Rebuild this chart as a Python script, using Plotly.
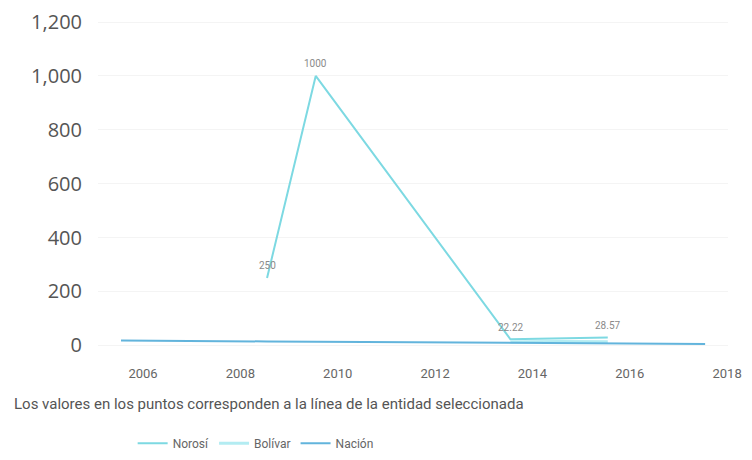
import plotly.graph_objects as go

norosi_years = [2009, 2010, 2014, 2016]
norosi_vals = [250, 1000, 22.22, 28.57]
norosi_labels = ["250", "1000", "22.22", "28.57"]

bolivar_years = [2014, 2015, 2016]
bolivar_vals = [12, 14, 13]

nacion_years = [2006, 2007, 2008, 2009, 2010, 2011, 2012, 2013, 2014, 2015, 2016, 2017, 2018]
nacion_vals = [18, 16, 15, 14, 13, 12, 11, 10, 9, 8, 7, 6, 5]

x_ticks = [2006, 2008, 2010, 2012, 2014, 2016, 2018]
y_ticks = [0, 200, 400, 600, 800, 1000, 1200]
caption = "Los valores en los puntos corresponden a la línea de la entidad seleccionada"

fig = go.Figure()
fig.add_trace(go.Scatter(
    x=norosi_years, y=norosi_vals, name="Norosí", mode="lines",
    line=dict(color="#7dd9e2", width=2),
))
fig.add_trace(go.Scatter(
    x=bolivar_years, y=bolivar_vals, name="Bolívar", mode="lines",
    line=dict(color="#b3ecf2", width=3),
))
fig.add_trace(go.Scatter(
    x=nacion_years, y=nacion_vals, name="Nación", mode="lines",
    line=dict(color="#62b4dc", width=2),
))

annotations = [dict(x=xv, y=yv, text=t, xref="x", yref="y", showarrow=False,
                    yshift=12, font=dict(size=10, color="#8a8a8a"))
               for xv, yv, t in zip(norosi_years, norosi_vals, norosi_labels)]
annotations.append(dict(text=caption, xref="paper", yref="paper", x=-0.137, y=-0.14,
                        xanchor="left", yanchor="middle", showarrow=False,
                        font=dict(size=15, color="#555555")))

fig.update_layout(
    width=744, height=452,
    margin=dict(l=90, r=24, t=6, b=104, autoexpand=False),
    paper_bgcolor="white", plot_bgcolor="white",
    font=dict(family="Roboto, sans-serif", color="#555555"),
    showlegend=True,
    legend=dict(orientation="h", x=0.055, xanchor="left", y=-0.255, yanchor="middle",
                font=dict(size=12, color="#666666"), itemwidth=30),
    annotations=annotations,
)
fig.update_xaxes(
    range=[2005.527, 2018.47], tickvals=x_ticks, ticktext=[str(v) for v in x_ticks],
    showgrid=False, zeroline=False, showline=False, automargin=False,
    tickfont=dict(size=13, color="#666666"), ticklabelshift=22, ticklabelstandoff=8,
    ticklabeloverflow="allow",
)
fig.update_yaxes(
    range=[-40, 1230], tickvals=y_ticks, tickformat=",d",
    showgrid=True, gridcolor="#f4f4f4", zeroline=False, showline=False, automargin=False,
    tickfont=dict(size=20, color="#555555", family="Open Sans, sans-serif"),
    ticklabelstandoff=15, ticklabeloverflow="allow",
)
fig.write_html("out.html")
